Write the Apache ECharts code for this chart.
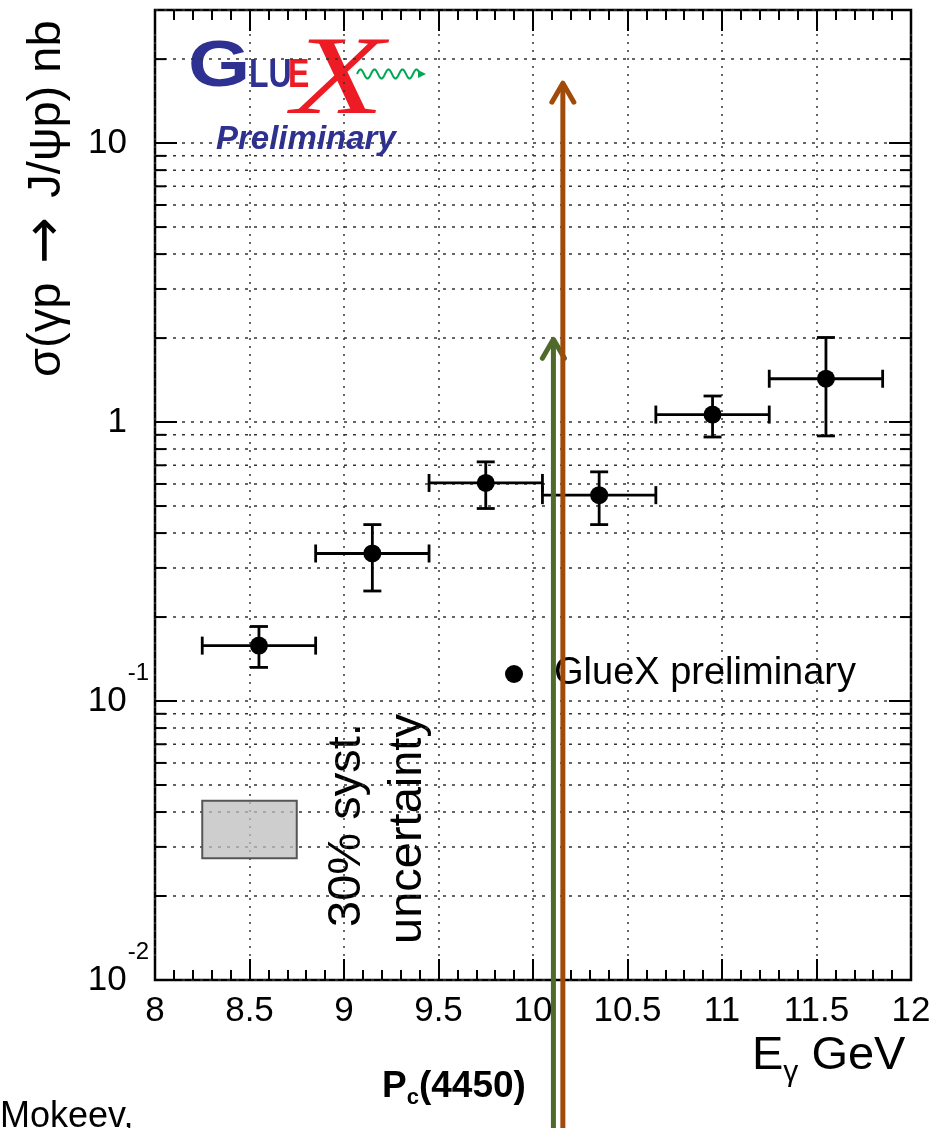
<!DOCTYPE html>
<html>
<head>
<meta charset="utf-8">
<script src="https://cdn.jsdelivr.net/npm/echarts@6/dist/echarts.min.js"></script>
<style>
  html, body { margin: 0; padding: 0; background: #fff; }
  #chart { width: 939px; height: 1128px; }
</style>
</head>
<body>
<div id="chart"></div>
<script>
// photon energy bins (GeV)
var energy = [8.55, 9.15, 9.75, 10.35, 10.95, 11.55];
var energyLow = [8.25, 8.85, 9.45, 10.05, 10.65, 11.25];
var energyHigh = [8.85, 9.45, 10.05, 10.65, 11.25, 11.85];
// cross section (nb) with error bar ends
var sigma = [0.158, 0.338, 0.605, 0.547, 1.064, 1.43];
var sigmaLow = [0.132, 0.248, 0.49, 0.429, 0.884, 0.892];
var sigmaHigh = [0.185, 0.429, 0.72, 0.663, 1.24, 2.01];
// Pc(4450) arrows: energy and where the head sits
var arrowEnergy = [10.108, 10.158];
var arrowTop = [1.98, 16.4];
var arrowColor = ['#4f6a2b', '#a04b0a'];
// 30% syst. box
var systEnergy = [8.25, 8.75];
var systSigma = [0.0273, 0.0439];
// axis ranges / ticks
var xRange = [8, 12];
var yRange = [0.01, 30];
var yMinorTicks = [0.02, 0.03, 0.04, 0.05, 0.06, 0.07, 0.08, 0.09,
                   0.2, 0.3, 0.4, 0.5, 0.6, 0.7, 0.8, 0.9,
                   2, 3, 4, 5, 6, 7, 8, 9, 20];

var FONT = '"Liberation Sans", Arial, Helvetica, sans-serif';
var dotted = { color: '#333', width: 1.5, type: [3, 6] };

// little green photon wiggle of the logo
var wave = [];
for (var k = 0; k <= 62; k++) wave.push([357 + k, 74 - 4.5 * Math.sin(k / 7 * Math.PI)]);

var chart = echarts.init(document.getElementById('chart'));

var option = {
    animation: false,
    grid: {
        left: 155, right: 28, top: 10, bottom: 148,
        show: true, borderColor: '#000', borderWidth: 2.5, backgroundColor: 'transparent'
    },
    legend: {
        data: ['GlueX preliminary'],
        left: 500, top: 650,
        icon: 'circle', itemWidth: 18, itemHeight: 18,
        selectedMode: false,
        itemStyle: { color: '#000', opacity: 1 },
        textStyle: { fontSize: 38, color: '#000', fontFamily: FONT, padding: [0, 0, 0, 26] }
    },
    xAxis: [{
        type: 'value', min: xRange[0], max: xRange[1], interval: 0.5,
        axisLine: { show: false },
        axisTick: { inside: true, length: 21, lineStyle: { color: '#000', width: 2 } },
        minorTick: { show: true, splitNumber: 5, length: 10, lineStyle: { color: '#000', width: 2 } },
        splitLine: { show: true, lineStyle: { color: '#333', width: 1.5, type: [2, 6] } },
        axisLabel: { fontSize: 35, color: '#000', fontFamily: FONT, margin: 14 }
    }, {
        type: 'value', position: 'top', min: xRange[0], max: xRange[1], interval: 0.5,
        axisLine: { show: false },
        axisTick: { inside: true, length: 21, lineStyle: { color: '#000', width: 2 } },
        minorTick: { show: true, splitNumber: 5, length: 10, lineStyle: { color: '#000', width: 2 } },
        splitLine: { show: false },
        axisLabel: { show: false }
    }],
    yAxis: [{
        type: 'log', logBase: 10, min: yRange[0], max: yRange[1],
        axisLine: { show: false },
        axisTick: { inside: true, length: 22, lineStyle: { color: '#000', width: 2 } },
        splitLine: { show: true, lineStyle: dotted },
        axisLabel: {
            margin: 6, fontFamily: FONT, color: '#000',
            showMaxLabel: false,
            formatter: function (v) {
                var e = Math.log10(v), r = Math.round(e);
                if (Math.abs(e - r) > 0.01) return '';
                if (r === 1) return '{p|10}';
                if (r === 0) return '{p|1}';
                return '{b|10}{s|' + r + '}';
            },
            rich: {
                p: { fontSize: 35, fontFamily: FONT, color: '#000', padding: [0, 22, 0, 0] },
                b: { fontSize: 35, fontFamily: FONT, color: '#000' },
                s: { fontSize: 24, fontFamily: FONT, color: '#000', padding: [0, 0, 56, 1] }
            }
        }
    }, {
        type: 'log', logBase: 10, min: yRange[0], max: yRange[1], position: 'right',
        axisLine: { show: false },
        axisTick: { inside: true, length: 22, lineStyle: { color: '#000', width: 2 } },
        splitLine: { show: false },
        axisLabel: { show: false }
    }],
    graphic: [
        // y title
        { type: 'text', x: 47, y: 377, rotation: Math.PI / 2,
          style: { text: '{t|σ(γp }{a|→}{t| J/ψp) nb}', fill: '#000', textAlign: 'left', textVerticalAlign: 'middle',
                   rich: { t: { fontSize: 47, fontFamily: FONT }, a: { fontSize: 56, fontFamily: '"DejaVu Sans", sans-serif', padding: [0, 6, 0, 6] } } } },
        // x title
        { type: 'text', x: 752, y: 1056,
          style: { text: '{b|E}{s|γ}{b| GeV}', fill: '#000', textAlign: 'left', textVerticalAlign: 'middle',
                   rich: { b: { fontSize: 47, fontFamily: FONT }, s: { fontSize: 30, fontFamily: FONT, padding: [34, 0, 0, 0] } } } },
        // Pc(4450)
        { type: 'text', x: 382, y: 1087,
          style: { text: '{b|P}{s|c}{b|(4450)}', fill: '#000', textAlign: 'left', textVerticalAlign: 'middle',
                   rich: { b: { fontSize: 37, fontWeight: 'bold', fontFamily: FONT }, s: { fontSize: 22, fontWeight: 'bold', fontFamily: FONT, padding: [22, 0, 0, 0] } } } },
        // Mokeev,
        { type: 'text', x: 0, y: 1117,
          style: { text: 'Mokeev,', font: '36px ' + FONT, fill: '#000', textAlign: 'left', textVerticalAlign: 'middle' } },
        // syst. uncertainty text
        { type: 'text', x: 347, y: 927, rotation: Math.PI / 2,
          style: { text: '30% syst.', font: '47px ' + FONT, fill: '#000', textAlign: 'left', textVerticalAlign: 'middle' } },
        { type: 'text', x: 408, y: 944, rotation: Math.PI / 2,
          style: { text: 'uncertainty', font: '47px ' + FONT, fill: '#000', textAlign: 'left', textVerticalAlign: 'middle' } },
        // GlueX logo
        { type: 'text', x: 188, y: 68, scaleX: 1.25,
          style: { text: 'G', font: 'bold 64px ' + FONT, fill: '#2e3192', textAlign: 'left', textVerticalAlign: 'middle' } },
        { type: 'text', x: 249, y: 76, scaleX: 0.8,
          style: { text: 'LU', font: 'bold 40px ' + FONT, fill: '#2e3192', textAlign: 'left', textVerticalAlign: 'middle' } },
        { type: 'text', x: 288, y: 76, scaleX: 0.8,
          style: { text: 'E', font: 'bold 40px ' + FONT, fill: '#ed1c24', textAlign: 'left', textVerticalAlign: 'middle' } },
        { type: 'text', x: 292, y: 84, scaleX: 1.35,
          style: { text: 'X', font: 'italic 112px "Liberation Serif", "Times New Roman", serif', fill: '#ed1c24', textAlign: 'left', textVerticalAlign: 'middle' } },
        { type: 'polyline', shape: { points: wave }, style: { stroke: '#00a651', lineWidth: 2, fill: null } },
        { type: 'polygon', shape: { points: [[418, 70], [426, 74], [418, 78]] }, style: { fill: '#00a651' } },
        { type: 'text', x: 216, y: 140,
          style: { text: 'Preliminary', font: 'italic bold 33px ' + FONT, fill: '#2e3192', textAlign: 'left', textVerticalAlign: 'middle' } }
    ],
    series: [
        {
            // minor log grid lines + minor ticks on both sides
            type: 'custom', silent: true, z: 1,
            data: yMinorTicks.map(function (v) { return [xRange[0], v]; }),
            renderItem: function (params, api) {
                var a = api.coord([xRange[0], api.value(1)]);
                var b = api.coord([xRange[1], api.value(1)]);
                var tick = { stroke: '#000', lineWidth: 2 };
                return { type: 'group', children: [
                    { type: 'line', shape: { x1: a[0], y1: a[1], x2: b[0], y2: b[1] }, style: { stroke: '#333', lineWidth: 1.5, lineDash: [3, 6] } },
                    { type: 'line', shape: { x1: a[0], y1: a[1], x2: a[0] + 11, y2: a[1] }, style: tick },
                    { type: 'line', shape: { x1: b[0] - 11, y1: b[1], x2: b[0], y2: b[1] }, style: tick }
                ] };
            }
        },
        {
            // 30% systematic box
            type: 'custom', silent: true, z: 2,
            data: [[systEnergy[0], systSigma[0], systEnergy[1], systSigma[1]]],
            renderItem: function (params, api) {
                var p0 = api.coord([api.value(0), api.value(3)]);
                var p1 = api.coord([api.value(2), api.value(1)]);
                return { type: 'rect', shape: { x: p0[0], y: p0[1], width: p1[0] - p0[0], height: p1[1] - p0[1] },
                         style: { fill: 'rgba(190,190,190,0.75)', stroke: '#555', lineWidth: 2 } };
            }
        },
        {
            // error bars
            type: 'custom', silent: true, z: 3,
            data: energy.map(function (e, i) { return [e, sigma[i], energyLow[i], energyHigh[i], sigmaLow[i], sigmaHigh[i]]; }),
            renderItem: function (params, api) {
                var c = api.coord([api.value(0), api.value(1)]);
                var l = api.coord([api.value(2), api.value(1)]);
                var r = api.coord([api.value(3), api.value(1)]);
                var lo = api.coord([api.value(0), api.value(4)]);
                var hi = api.coord([api.value(0), api.value(5)]);
                var s = { stroke: '#000', lineWidth: 2.8 };
                var cap = 9;
                return { type: 'group', children: [
                    { type: 'line', shape: { x1: l[0], y1: c[1], x2: r[0], y2: c[1] }, style: s },
                    { type: 'line', shape: { x1: l[0], y1: c[1] - cap, x2: l[0], y2: c[1] + cap }, style: s },
                    { type: 'line', shape: { x1: r[0], y1: c[1] - cap, x2: r[0], y2: c[1] + cap }, style: s },
                    { type: 'line', shape: { x1: c[0], y1: lo[1], x2: c[0], y2: hi[1] }, style: s },
                    { type: 'line', shape: { x1: c[0] - cap, y1: lo[1], x2: c[0] + cap, y2: lo[1] }, style: s },
                    { type: 'line', shape: { x1: c[0] - cap, y1: hi[1], x2: c[0] + cap, y2: hi[1] }, style: s }
                ] };
            }
        },
        {
            name: 'GlueX preliminary',
            type: 'scatter', z: 4,
            symbol: 'circle', symbolSize: 18,
            itemStyle: { color: '#000', opacity: 1 },
            data: energy.map(function (e, i) { return [e, sigma[i]]; })
        },
        {
            // Pc(4450) arrows, running off the bottom of the page
            type: 'custom', silent: true, z: 5,
            data: arrowEnergy.map(function (e, i) { return [e, arrowTop[i], i]; }),
            renderItem: function (params, api) {
                var tip = api.coord([api.value(0), api.value(1)]);
                var foot = api.coord([api.value(0), 0.0001]);
                var col = arrowColor[api.value(2)];
                var s = { stroke: col, lineWidth: 5, lineCap: 'round', lineJoin: 'round', fill: null };
                return { type: 'group', children: [
                    { type: 'line', shape: { x1: tip[0], y1: tip[1] + 2, x2: foot[0], y2: foot[1] }, style: { stroke: col, lineWidth: 5 } },
                    { type: 'polyline', shape: { points: [[tip[0] - 11, tip[1] + 19], [tip[0], tip[1]], [tip[0] + 11, tip[1] + 19]] }, style: s }
                ] };
            }
        }
    ]
};

chart.setOption(option);
</script>
</body>
</html>
